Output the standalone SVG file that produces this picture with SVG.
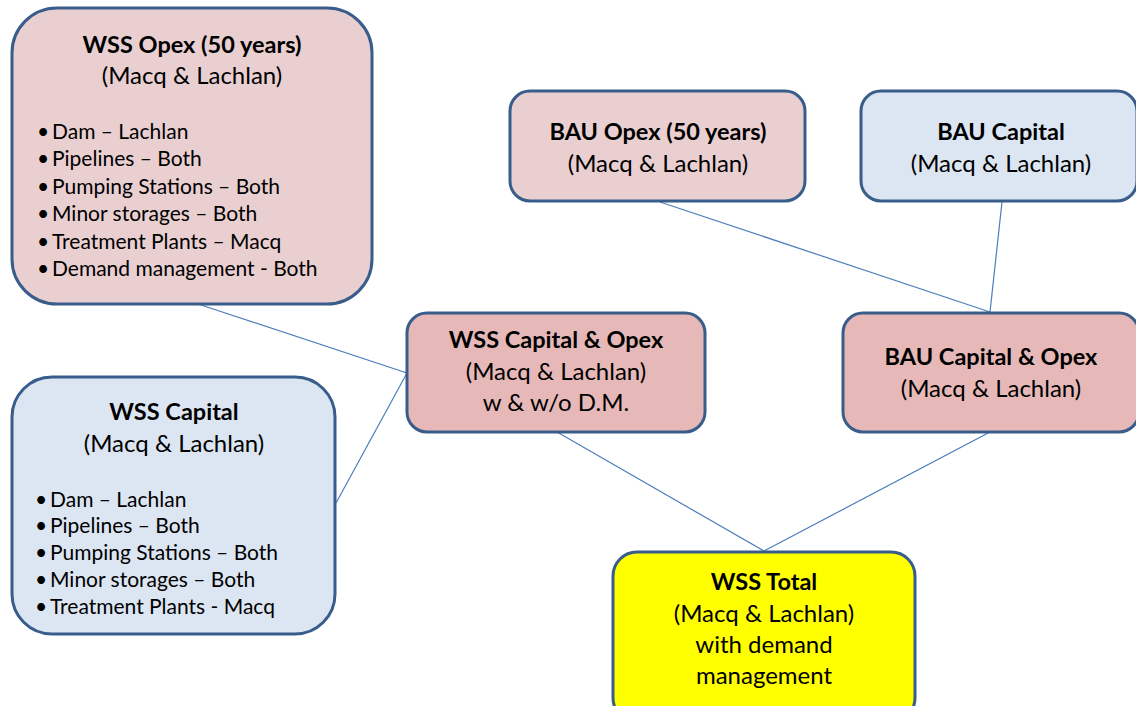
<svg xmlns="http://www.w3.org/2000/svg" width="1136" height="706" viewBox="0 0 1136 706">
<style>
.box{stroke:#385d8a;stroke-width:3}
.p1{fill:#eacfd1}
.p2{fill:#e6b9b8}
.bl{fill:#dce6f2}
.ye{fill:#ffff00}
text{font-family:Lato,"Liberation Sans",sans-serif;fill:#000}
.t{font-size:23.5px;font-weight:bold;text-anchor:middle}
.s{font-size:24px;text-anchor:middle}
.b{font-size:21px}
.c line{stroke:#4a7ebb;stroke-width:1.2}
</style>
<rect width="1136" height="706" fill="#fff"/>
<g class="c" id="connectors">
<line x1="198" y1="304" x2="407" y2="373"/>
<line x1="336" y1="503" x2="407" y2="373"/>
<line x1="660" y1="202" x2="990" y2="312"/>
<line x1="1002" y1="202" x2="990" y2="312"/>
<line x1="557" y1="432" x2="764" y2="551"/>
<line x1="990" y1="432" x2="764" y2="551"/>
</g>
<g id="wss-opex">
<rect class="box p1" x="12" y="8" width="360" height="296" rx="45"/>
<text class="t" x="192" y="53">WSS Opex (50 years)</text>
<text class="s" x="192" y="84">(Macq &amp; Lachlan)</text>
<g class="b">
<text x="37" y="139"><tspan>•</tspan><tspan x="52">Dam – Lachlan</tspan></text>
<text x="37" y="166"><tspan>•</tspan><tspan x="52">Pipelines – Both</tspan></text>
<text x="37" y="194"><tspan>•</tspan><tspan x="52">Pumping Stations – Both</tspan></text>
<text x="37" y="221"><tspan>•</tspan><tspan x="52">Minor storages – Both</tspan></text>
<text x="37" y="249"><tspan>•</tspan><tspan x="52">Treatment Plants – Macq</tspan></text>
<text x="37" y="276"><tspan>•</tspan><tspan x="52">Demand management - Both</tspan></text>
</g>
</g>
<g id="wss-capital">
<rect class="box bl" x="12" y="377" width="323" height="257" rx="40"/>
<text class="t" x="174" y="420">WSS Capital</text>
<text class="s" x="174" y="452">(Macq &amp; Lachlan)</text>
<g class="b">
<text x="35" y="507"><tspan>•</tspan><tspan x="50">Dam – Lachlan</tspan></text>
<text x="35" y="533"><tspan>•</tspan><tspan x="50">Pipelines – Both</tspan></text>
<text x="35" y="560"><tspan>•</tspan><tspan x="50">Pumping Stations – Both</tspan></text>
<text x="35" y="587"><tspan>•</tspan><tspan x="50">Minor storages – Both</tspan></text>
<text x="35" y="614"><tspan>•</tspan><tspan x="50">Treatment Plants - Macq</tspan></text>
</g>
</g>
<g id="wss-cap-opex">
<rect class="box p2" x="407" y="313" width="298" height="119" rx="20"/>
<text class="t" x="556" y="348">WSS Capital  &amp; Opex</text>
<text class="s" x="556" y="380">(Macq &amp; Lachlan)</text>
<text class="s" x="556" y="411">w &amp; w/o D.M.</text>
</g>
<g id="bau-opex">
<rect class="box p1" x="510" y="91" width="295" height="110" rx="20"/>
<text class="t" x="658" y="140">BAU Opex (50 years)</text>
<text class="s" x="658" y="172">(Macq &amp; Lachlan)</text>
</g>
<g id="bau-capital">
<rect class="box bl" x="861" y="91" width="276" height="110" rx="20"/>
<text class="t" x="1001" y="140">BAU Capital</text>
<text class="s" x="1001" y="172">(Macq &amp; Lachlan)</text>
</g>
<g id="bau-cap-opex">
<rect class="box p2" x="843" y="313" width="296" height="119" rx="20"/>
<text class="t" x="991" y="365">BAU Capital  &amp; Opex</text>
<text class="s" x="991" y="397">(Macq &amp; Lachlan)</text>
</g>
<g id="wss-total">
<rect class="box ye" x="613" y="552" width="302" height="170" rx="24"/>
<text class="t" x="764" y="590">WSS Total</text>
<text class="s" x="764" y="622">(Macq &amp; Lachlan)</text>
<text class="s" x="764" y="653">with demand</text>
<text class="s" x="764" y="684">management</text>
</g>
</svg>
